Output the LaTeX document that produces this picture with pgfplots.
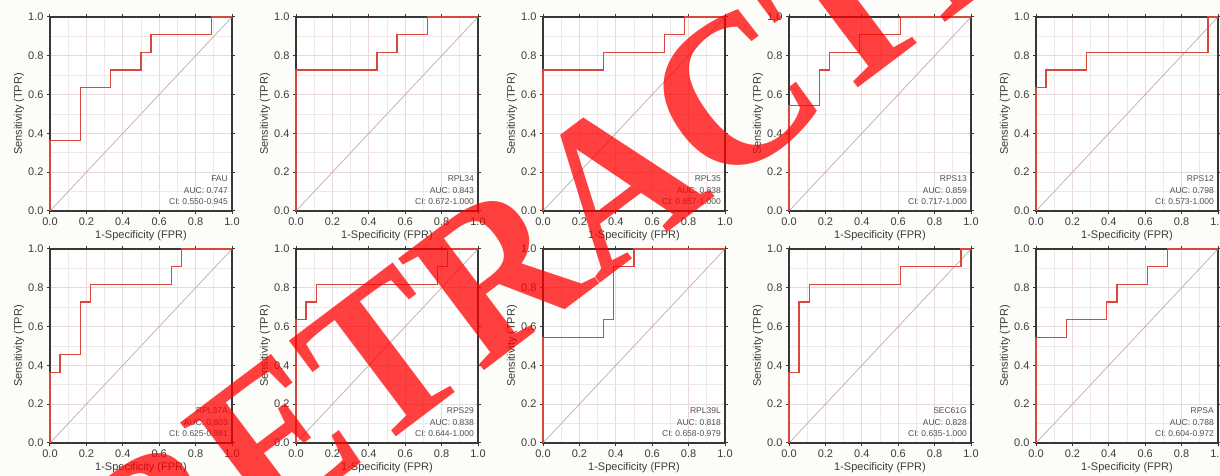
\documentclass[border=0pt]{standalone}
\usepackage{pgfplots}
\pgfplotsset{compat=1.18}
\usepackage{fontspec}
\setmainfont{Liberation Sans}
\newfontfamily\wmfont{Liberation Serif}
\definecolor{rocred}{RGB}{214,72,60}
\definecolor{gridc}{RGB}{232,218,218}
\definecolor{gridm}{RGB}{240,232,232}
\definecolor{diagc}{RGB}{190,172,172}
\definecolor{framec}{RGB}{55,55,55}
\definecolor{txtc}{RGB}{60,60,60}
\definecolor{annc}{RGB}{80,80,80}
\definecolor{bgc}{RGB}{252,252,249}
\pgfplotsset{
  rocaxis/.style={
    width=182pt, height=194pt, scale only axis,
    anchor=south west,
    xmin=0, xmax=1, ymin=0, ymax=1,
    xtick={0,0.2,0.4,0.6,0.8,1}, ytick={0,0.2,0.4,0.6,0.8,1},
    minor xtick={0.1,0.3,0.5,0.7,0.9}, minor ytick={0.1,0.3,0.5,0.7,0.9},
    grid=both,
    major grid style={color=gridc, line width=0.8pt},
    minor grid style={color=gridm, line width=0.7pt},
    axis line style={color=framec, line width=1.3pt},
    tick align=outside, major tick length=3pt, minor tick length=0pt,
    tick style={color=framec, line width=1pt},
    xticklabel style={font=\fontsize{11}{12}\selectfont, text=txtc},
    yticklabel style={font=\fontsize{11}{12}\selectfont, text=txtc},
    /pgf/number format/.cd, fixed, fixed zerofill, precision=1, assume math mode=true, /pgfplots/.cd,
    xlabel={1-Specificity (FPR)}, ylabel={Sensitivity (TPR)},
    label style={font=\fontsize{11}{12}\selectfont, text=txtc},
    xlabel style={at={(axis description cs:0.5,-0.129)}, anchor=center},
    ylabel style={at={(axis description cs:-0.170,0.5)}, anchor=center},
    clip=false,
    axis background/.style={fill=white},
  },
  roc/.style={color=rocred, line width=1.3pt, line join=miter},
  diag/.style={color=diagc, line width=0.7pt},
}
\newcommand{\rocinfo}[3]{%
  \node[anchor=east, font=\fontsize{8.5}{9}\selectfont, text=annc, inner sep=0pt] at (rel axis cs:1,0) [xshift=-4pt, yshift=32pt] {#1};
  \node[anchor=east, font=\fontsize{8.5}{9}\selectfont, text=annc, inner sep=0pt] at (rel axis cs:1,0) [xshift=-4pt, yshift=20.3pt] {#2};
  \node[anchor=east, font=\fontsize{8.5}{9}\selectfont, text=annc, inner sep=0pt] at (rel axis cs:1,0) [xshift=-4pt, yshift=9pt] {#3};
}
\begin{document}
\begin{tikzpicture}
\useasboundingbox (0,0) rectangle (1220pt,476pt);
\fill[bgc] (0,0) rectangle (1220pt,476pt);
% ---------- top row ----------
\begin{axis}[rocaxis, at={(50pt,265pt)}]
\addplot[diag] coordinates {(0,0) (1,1)};
\addplot[roc] coordinates {(0,0) (0,0.3636) (0.1667,0.3636) (0.1667,0.6364) (0.3333,0.6364) (0.3333,0.7273) (0.5,0.7273) (0.5,0.8182) (0.5556,0.8182) (0.5556,0.9091) (0.8889,0.9091) (0.8889,1) (1,1)};
\rocinfo{FAU}{AUC: 0.747}{CI: 0.550-0.945}
\end{axis}
\begin{axis}[rocaxis, at={(296pt,265pt)}]
\addplot[diag] coordinates {(0,0) (1,1)};
\addplot[roc] coordinates {(0,0) (0,0.7273) (0.4444,0.7273) (0.4444,0.8182) (0.5556,0.8182) (0.5556,0.9091) (0.7222,0.9091) (0.7222,1) (1,1)};
\rocinfo{RPL34}{AUC: 0.843}{CI: 0.672-1.000}
\end{axis}
\begin{axis}[rocaxis, at={(543pt,265pt)}]
\addplot[diag] coordinates {(0,0) (1,1)};
\addplot[roc] coordinates {(0,0) (0,0.7273) (0.3333,0.7273) (0.3333,0.8182) (0.6667,0.8182) (0.6667,0.9091) (0.7778,0.9091) (0.7778,1) (1,1)};
\rocinfo{RPL35}{AUC: 0.838}{CI: 0.657-1.000}
\end{axis}
\begin{axis}[rocaxis, at={(789pt,265pt)}]
\addplot[diag] coordinates {(0,0) (1,1)};
\addplot[roc] coordinates {(0,0) (0,0.5455) (0.1667,0.5455) (0.1667,0.7273) (0.2222,0.7273) (0.2222,0.8182) (0.3889,0.8182) (0.3889,0.9091) (0.6111,0.9091) (0.6111,1) (1,1)};
\rocinfo{RPS13}{AUC: 0.859}{CI: 0.717-1.000}
\end{axis}
\begin{axis}[rocaxis, at={(1036pt,265pt)}]
\addplot[diag] coordinates {(0,0) (1,1)};
\addplot[roc] coordinates {(0,0) (0,0.6364) (0.0556,0.6364) (0.0556,0.7273) (0.2778,0.7273) (0.2778,0.8182) (0.9444,0.8182) (0.9444,1) (1,1)};
\rocinfo{RPS12}{AUC: 0.798}{CI: 0.573-1.000}
\end{axis}
% ---------- bottom row ----------
\begin{axis}[rocaxis, at={(50pt,33pt)}]
\addplot[diag] coordinates {(0,0) (1,1)};
\addplot[roc] coordinates {(0,0) (0,0.3636) (0.0556,0.3636) (0.0556,0.4545) (0.1667,0.4545) (0.1667,0.7273) (0.2222,0.7273) (0.2222,0.8182) (0.6667,0.8182) (0.6667,0.9091) (0.7222,0.9091) (0.7222,1) (1,1)};
\rocinfo{RPL37A}{AUC: 0.803}{CI: 0.625-0.981}
\end{axis}
\begin{axis}[rocaxis, at={(296pt,33pt)}]
\addplot[diag] coordinates {(0,0) (1,1)};
\addplot[roc] coordinates {(0,0) (0,0.6364) (0.0556,0.6364) (0.0556,0.7273) (0.1111,0.7273) (0.1111,0.8182) (0.7778,0.8182) (0.7778,0.9091) (0.8333,0.9091) (0.8333,1) (1,1)};
\rocinfo{RPS29}{AUC: 0.838}{CI: 0.644-1.000}
\end{axis}
\begin{axis}[rocaxis, at={(543pt,33pt)}]
\addplot[diag] coordinates {(0,0) (1,1)};
\addplot[roc] coordinates {(0,0) (0,0.5455) (0.3333,0.5455) (0.3333,0.6364) (0.3889,0.6364) (0.3889,0.9091) (0.5,0.9091) (0.5,1) (1,1)};
\rocinfo{RPL39L}{AUC: 0.818}{CI: 0.658-0.979}
\end{axis}
\begin{axis}[rocaxis, at={(789pt,33pt)}]
\addplot[diag] coordinates {(0,0) (1,1)};
\addplot[roc] coordinates {(0,0) (0,0.3636) (0.0556,0.3636) (0.0556,0.7273) (0.1111,0.7273) (0.1111,0.8182) (0.6111,0.8182) (0.6111,0.9091) (0.9444,0.9091) (0.9444,1) (1,1)};
\rocinfo{SEC61G}{AUC: 0.828}{CI: 0.635-1.000}
\end{axis}
\begin{axis}[rocaxis, at={(1036pt,33pt)}]
\addplot[diag] coordinates {(0,0) (1,1)};
\addplot[roc] coordinates {(0,0) (0,0.5455) (0.1667,0.5455) (0.1667,0.6364) (0.3889,0.6364) (0.3889,0.7273) (0.4444,0.7273) (0.4444,0.8182) (0.6111,0.8182) (0.6111,0.9091) (0.7222,0.9091) (0.7222,1) (1,1)};
\rocinfo{RPSA}{AUC: 0.788}{CI: 0.604-0.972}
\end{axis}
% ---------- watermark ----------
\node[rotate=37, xscale=0.95, inner sep=0pt, text=red, text opacity=0.75,
      font=\wmfont\bfseries\fontsize{215}{215}\selectfont, anchor=center]
  at (615pt,292pt) {RETRACTED};
\end{tikzpicture}
\end{document}
